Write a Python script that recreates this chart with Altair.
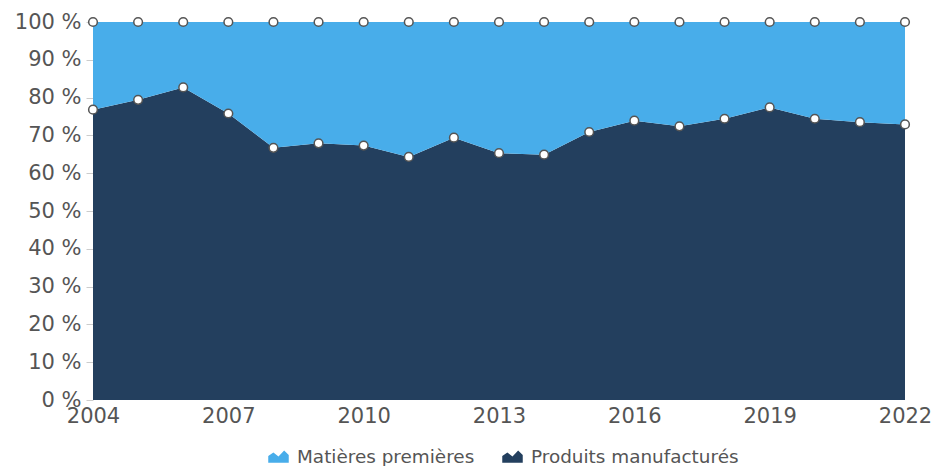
import altair as alt
import pandas as pd

years = list(range(2004, 2023))
produits = [76.8, 79.4, 82.7, 75.8, 66.7, 67.9, 67.3, 64.3, 69.4, 65.3,
            64.9, 70.9, 73.9, 72.4, 74.4, 77.4, 74.4, 73.5, 72.9]
matieres = [23.2, 20.6, 17.3, 24.2, 33.3, 32.1, 32.7, 35.7, 30.6, 34.7,
            35.1, 29.1, 26.1, 27.6, 25.6, 22.6, 25.6, 26.5, 27.1]
series = ["Matières premières", "Produits manufacturés"]
colors = ["#48adea", "#233f5e"]
x_ticks = [2004, 2007, 2010, 2013, 2016, 2019, 2022]
y_ticks = [0, 10, 20, 30, 40, 50, 60, 70, 80, 90, 100]

rows = []
for i, yr in enumerate(years):
    rows.append({"year": yr, "serie": series[1], "value": produits[i], "ord": 0})
    rows.append({"year": yr, "serie": series[0], "value": matieres[i], "ord": 1})
df = pd.DataFrame(rows)

FONT = "DejaVu Sans"
legend_shape = "M-1,0.6 L-1,-0.05 L-0.5,-0.4 L0,0 L0.55,-0.6 L1,-0.15 L1,0.6 Z"

x = alt.X("year:Q", scale=alt.Scale(domain=[2004, 2022], nice=False, zero=False),
          axis=alt.Axis(values=x_ticks, format="d", title=None, grid=False,
                        ticks=False, domain=False, labelFontSize=21,
                        labelColor="#555555", labelFont=FONT, labelPadding=5,
                        labelFlush=False))
y = alt.Y("value:Q", stack="zero",
          scale=alt.Scale(domain=[0, 100], nice=False),
          axis=alt.Axis(values=y_ticks, labelExpr="datum.value + ' %'", title=None,
                        grid=False, domain=False, ticks=True, tickSize=7,
                        tickColor="#cccccc", labelFontSize=21, labelColor="#555555",
                        labelFont=FONT, labelPadding=5))
color = alt.Color("serie:N", scale=alt.Scale(domain=series, range=colors),
                  legend=alt.Legend(title=None, orient="none", direction="horizontal",
                                    legendX=175, legendY=424, symbolType=legend_shape,
                                    symbolSize=420, labelFontSize=18.4, labelFont=FONT,
                                    labelColor="#555555", columnPadding=27,
                                    labelOffset=8, labelLimit=400,
                                    symbolStrokeWidth=0, symbolOpacity=1))
order = alt.Order("ord:Q")

area = alt.Chart(df).mark_area(opacity=1, interpolate="linear").encode(
    x=x, y=y, color=color, order=order)
pts = alt.Chart(df).mark_point(filled=True, fill="white", stroke="#555555",
                               strokeWidth=1.5, size=75, opacity=1).encode(
    x=x, y=y, detail="serie:N", order=order)

chart = alt.layer(area, pts).properties(
    width=812, height=378,
    autosize=alt.AutoSizeParams(type="none"),
    padding={"left": 85, "top": 14, "right": 27, "bottom": 66},
).configure_view(stroke=None)

chart.save("out.html", embed_options={"renderer": "svg", "actions": False})
